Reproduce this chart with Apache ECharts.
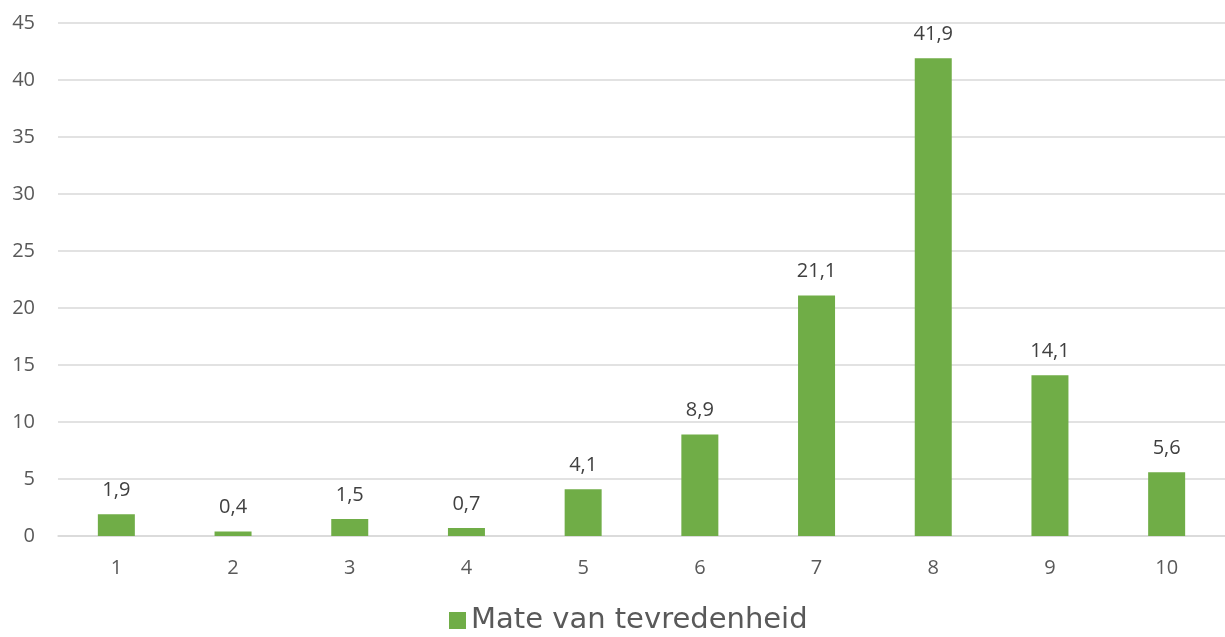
<!DOCTYPE html>
<html><head><meta charset="utf-8">
<script src="https://cdn.jsdelivr.net/npm/echarts@6/dist/echarts.min.js"></script>
<style>html,body{margin:0;padding:0;background:#fff}#c{width:1225px;height:637px}</style>
</head><body><div id="c"></div>
<script>
const categories = ['1','2','3','4','5','6','7','8','9','10'];
const values = [1.9, 0.4, 1.5, 0.7, 4.1, 8.9, 21.1, 41.9, 14.1, 5.6];
const seriesName = 'Mate van tevredenheid';

const chart = echarts.init(document.getElementById('c'), null, {renderer:'canvas'});
chart.setOption({
  animation:false,
  backgroundColor:'#ffffff',
  grid:{left:58,right:0,top:23,bottom:101,containLabel:false},
  legend:{
    data:[seriesName], top:601, left:444,
    icon:'rect', itemWidth:17, itemHeight:17, itemGap:8,
    textStyle:{fontFamily:'DejaVu Sans', fontSize:29, color:'#595959'}
  },
  xAxis:{
    type:'category', data:categories,
    axisLine:{lineStyle:{color:'#d9d9d9',width:1.5}},
    axisTick:{show:false},
    axisLabel:{fontFamily:'Open Sans', fontSize:20, color:'#595959', margin:22}
  },
  yAxis:{
    type:'value', min:0, max:45, interval:5,
    axisLine:{show:false}, axisTick:{show:false},
    splitLine:{lineStyle:{color:'#d9d9d9',width:1.5}},
    axisLabel:{fontFamily:'Open Sans', fontSize:20, color:'#595959', margin:23}
  },
  series:[{
    name:seriesName, type:'bar', data:values, barWidth:37,
    itemStyle:{color:'#70ad47'},
    label:{show:true, position:'top', distance:14, fontFamily:'Open Sans', fontSize:20, color:'#404040',
      formatter:p=>String(p.value).replace('.',',')}
  }]
});
</script></body></html>
